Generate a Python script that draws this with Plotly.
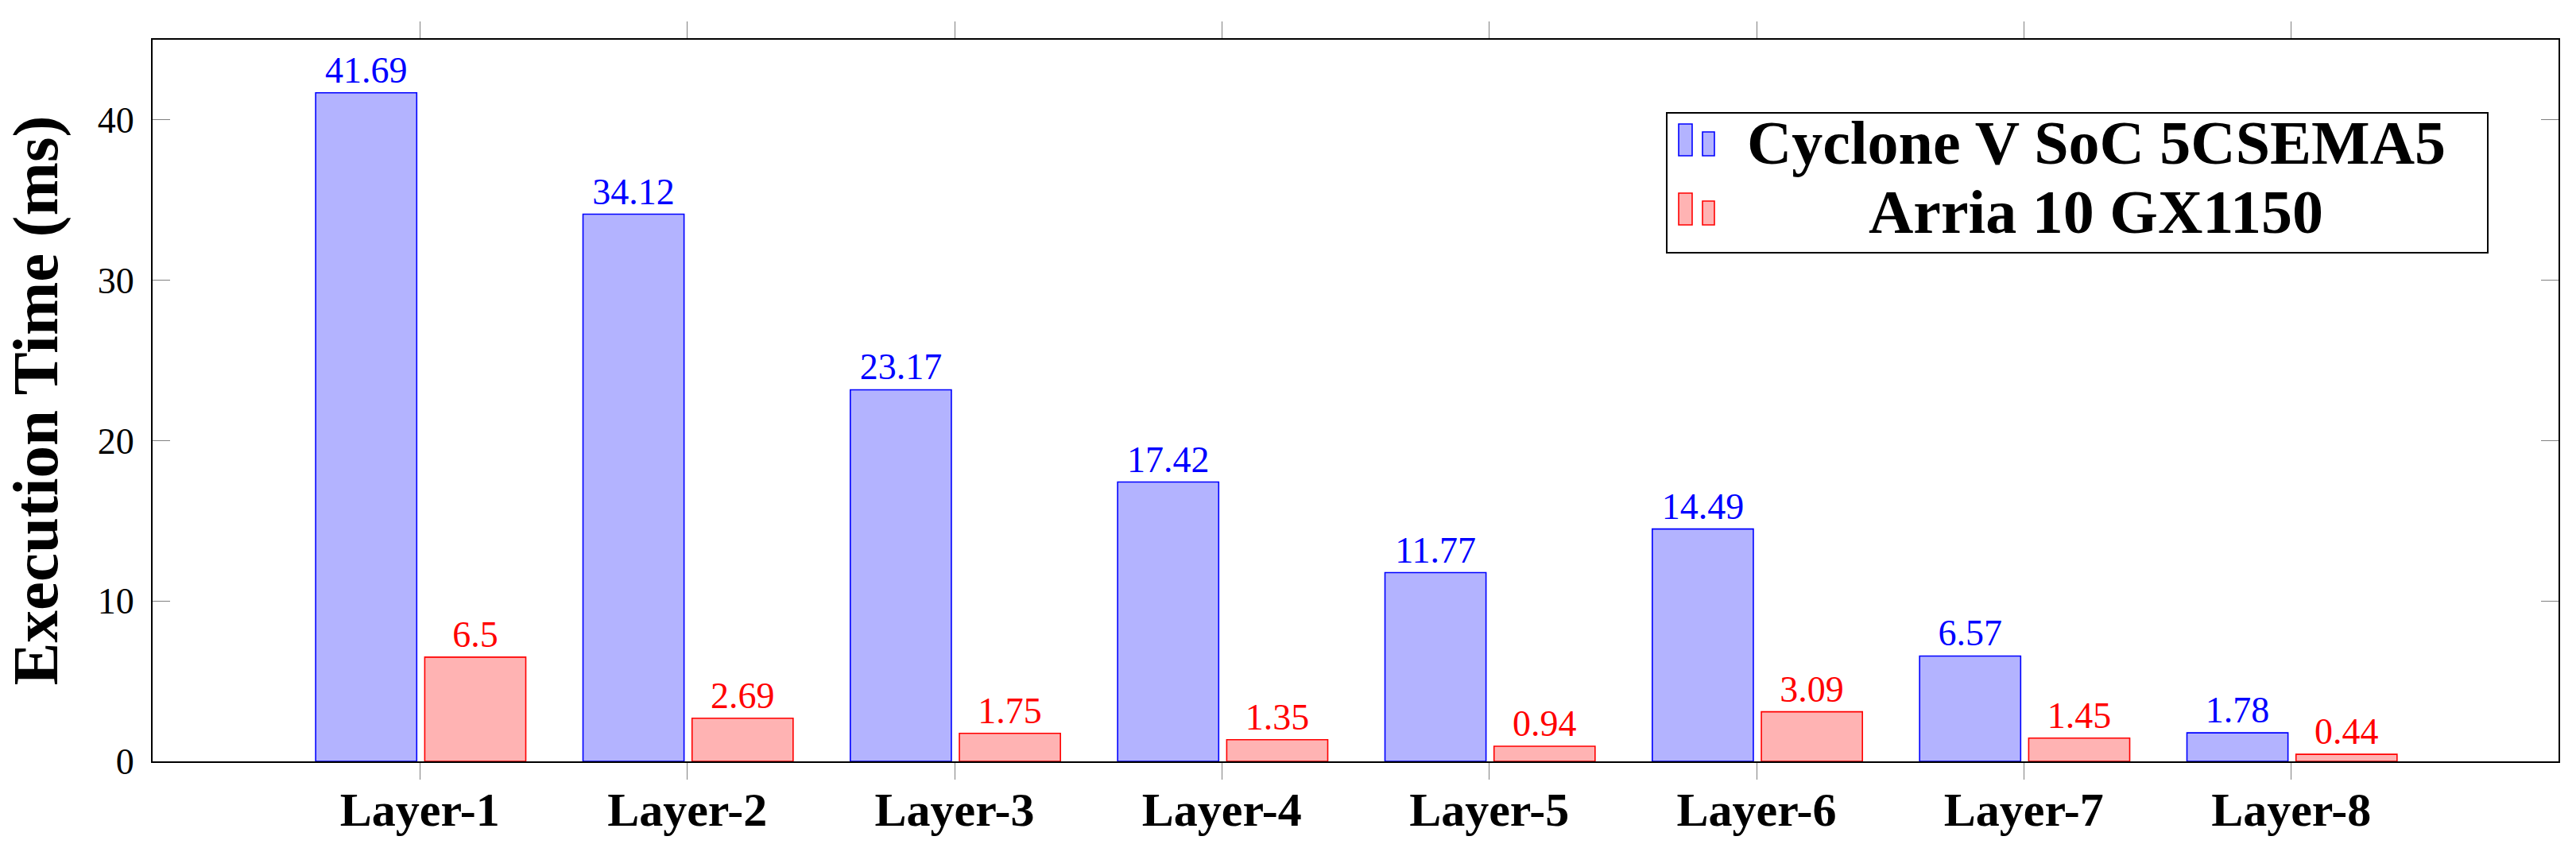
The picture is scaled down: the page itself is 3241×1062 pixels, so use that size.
import plotly.graph_objects as go

categories = ["Layer-1", "Layer-2", "Layer-3", "Layer-4", "Layer-5", "Layer-6", "Layer-7", "Layer-8"]
cyclone = [41.69, 34.12, 23.17, 17.42, 11.77, 14.49, 6.57, 1.78]
arria = [6.5, 2.69, 1.75, 1.35, 0.94, 3.09, 1.45, 0.44]
series_names = ["Cyclone V SoC 5CSEMA5", "Arria 10 GX1150"]
y_ticks = [0, 10, 20, 30, 40]

W, H = 3241, 1062
L, R, T, B = 192, 3219, 50, 958
FONT = "Liberation Serif"
BLUE_FILL, BLUE_LINE = "rgb(179,179,255)", "rgb(0,0,255)"
RED_FILL, RED_LINE = "rgb(255,179,179)", "rgb(255,0,0)"
LEG_SIZE = 78


def px(x):
    return (x - L) / (R - L)


def py(y):
    return (B - y) / (B - T)


fig = go.Figure()
for name, vals, fill, line, off in [
    (series_names[0], cyclone, BLUE_FILL, BLUE_LINE, -0.39),
    (series_names[1], arria, RED_FILL, RED_LINE, 0.018),
]:
    fig.add_trace(go.Bar(
        x=categories, y=vals, name=name,
        width=0.378, offset=off,
        marker=dict(color=fill, line=dict(color=line, width=1.6)),
        text=[f"{v:g}" for v in vals], textposition="outside",
        texttemplate="%{text}",
        textfont=dict(family=FONT, size=46, color=line),
        constraintext="none", cliponaxis=False,
        showlegend=False,
    ))

fig.update_layout(
    width=W, height=H,
    margin=dict(l=L, r=W - R, t=T, b=H - B, autoexpand=False),
    paper_bgcolor="white", plot_bgcolor="white",
    barmode="overlay",
    font=dict(family=FONT, color="black"),
    xaxis=dict(
        range=[-1, 8], showgrid=False, zeroline=False,
        showline=True, linecolor="black", linewidth=2, mirror="ticks",
        ticks="outside", ticklen=21, tickwidth=1.2, tickcolor="rgb(128,128,128)",
        tickfont=dict(family=FONT, size=60, weight="bold"),
        ticklabelstandoff=-14,
    ),
    yaxis=dict(
        range=[0, 45], tickvals=y_ticks, showgrid=False, zeroline=False,
        showline=True, linecolor="black", linewidth=2, mirror="ticks",
        ticks="inside", ticklen=22, tickwidth=1.2, tickcolor="rgb(128,128,128)",
        tickfont=dict(family=FONT, size=46),
        ticklabelstandoff=12,
        title=dict(text="Execution Time (ms)", font=dict(family=FONT, size=81, weight="bold"), standoff=24),
    ),
)

# legend box (manual, to reproduce the centered legend text)
shapes = [dict(type="rect", xref="paper", yref="paper", x0=px(2097), x1=px(3130), y0=py(318), y1=py(142),
               line=dict(color="black", width=2), fillcolor="white", layer="above")]
rows = [(series_names[0], BLUE_FILL, BLUE_LINE, 207), (series_names[1], RED_FILL, RED_LINE, 294)]
for name, fill, line, base in rows:
    top = base - 51
    shapes.append(dict(type="rect", xref="paper", yref="paper", x0=px(2112), x1=px(2129), y0=py(top + 40), y1=py(top),
                       line=dict(color=line, width=1.6), fillcolor=fill, layer="above"))
    shapes.append(dict(type="rect", xref="paper", yref="paper", x0=px(2142), x1=px(2157), y0=py(top + 40), y1=py(top + 10),
                       line=dict(color=line, width=1.6), fillcolor=fill, layer="above"))
    fig.add_annotation(xref="paper", yref="paper", x=px(2637), y=py(base + 0.216 * LEG_SIZE), text=name,
                       showarrow=False, xanchor="center", yanchor="bottom", borderpad=0,
                       font=dict(family=FONT, size=LEG_SIZE, weight="bold", color="black"))
fig.update_layout(shapes=shapes)

fig.write_html("out.html", post_script="document.body.style.margin='0';",
               config={"displayModeBar": False})
